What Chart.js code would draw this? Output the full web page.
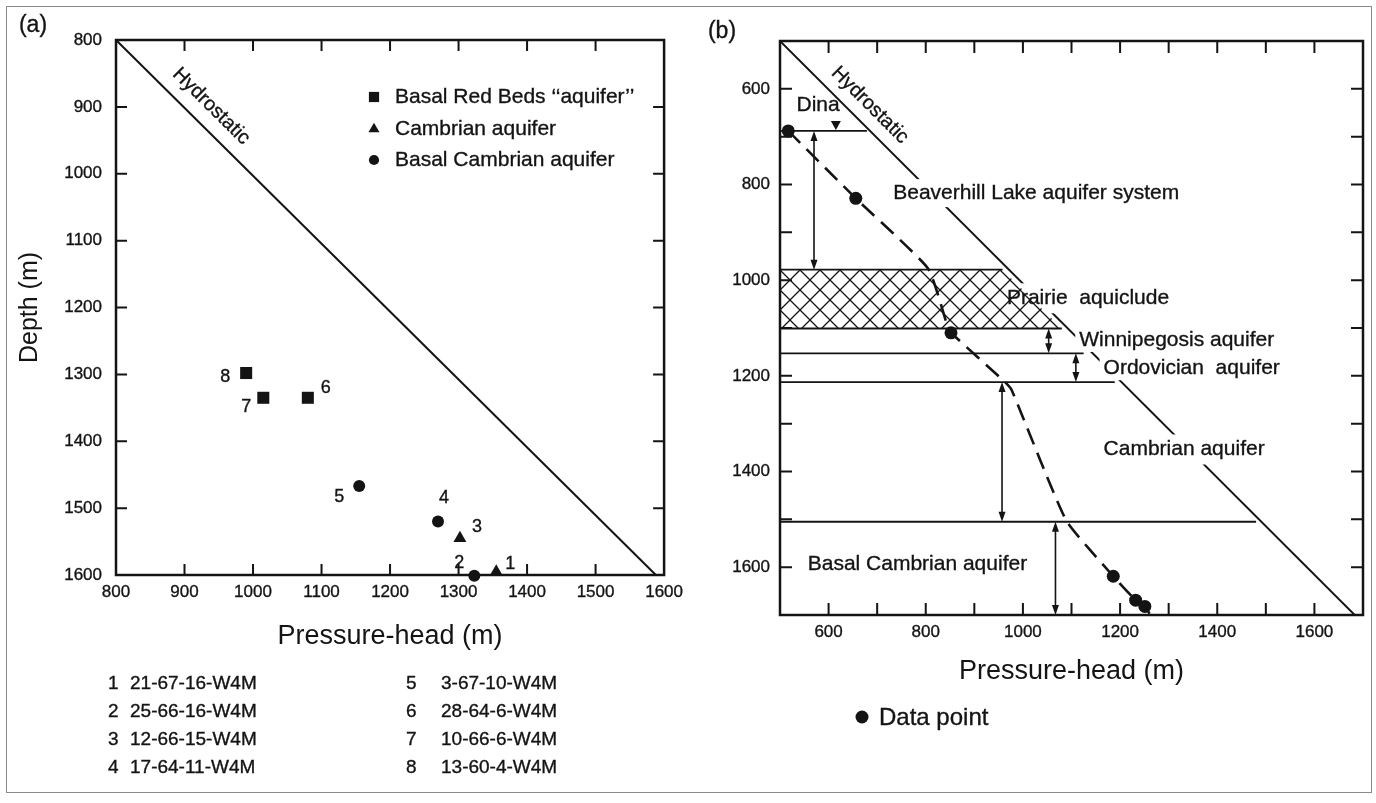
<!DOCTYPE html>
<html>
<head>
<meta charset="utf-8">
<title>Pressure-head versus depth</title>
<script src="https://cdn.jsdelivr.net/npm/chart.js@4.4.1/dist/chart.umd.min.js"></script>
<style>
  html, body { margin:0; padding:0; background:#fff; }
  #fig { position:relative; width:1376px; height:803px; overflow:hidden; background:#fff; }
  #frame { position:absolute; left:6px; top:6px; width:1366px; height:787px; border:1.5px solid #8a8a8a; box-sizing:border-box; }
  canvas { position:absolute; top:0; }
  #ca { left:0; }
  #cb { left:690px; }
</style>
</head>
<body>
<div id="fig">
  <div id="frame"></div>
  <canvas id="ca" width="690" height="803"></canvas>
  <canvas id="cb" width="686" height="803"></canvas>
</div>
<script>
const FONT = '"Liberation Sans", Arial, Helvetica, sans-serif';
const INK = '#141414';
Chart.defaults.font.family = FONT;
Chart.defaults.color = INK;

// ================= Panel (a) data =================
const wellNumbers = ['1','2','3','4','5','6','7','8'];
const wellNames = ['21-67-16-W4M','25-66-16-W4M','12-66-15-W4M','17-64-11-W4M',
                   '3-67-10-W4M','28-64-6-W4M','10-66-6-W4M','13-60-4-W4M'];
const wellPressureHead = [1355, 1323, 1302, 1270, 1155, 1080, 1015, 990];
const wellDepth        = [1595, 1601, 1545, 1520, 1467, 1335, 1335, 1298];
const wellAquifer = ['cambrian','basalCambrian','cambrian','basalCambrian','basalCambrian','redBeds','redBeds','redBeds'];
const aquiferKeys   = ['redBeds', 'cambrian', 'basalCambrian'];
const aquiferLabels = ['Basal Red Beds \u2018\u2018aquifer\u2019\u2019', 'Cambrian aquifer', 'Basal Cambrian aquifer'];
const aquiferMarkers = ['rect', 'triangle', 'circle'];
const hydroAHead  = [800, 1588];
const hydroADepth = [800, 1600];

// ================= Panel (b) data =================
const bPointHead  = [517, 656, 852, 1186, 1232, 1251];
const bPointDepth = [688, 829, 1110, 1619, 1669, 1682];
const profileHead  = [517, 656, 805, 846, 852, 963, 977, 1089, 1186, 1232, 1251, 1261];
const profileDepth = [688, 829, 976, 1100, 1110, 1213, 1230, 1502, 1619, 1669, 1682, 1698];
const hydroBHead  = [500, 1683];
const hydroBDepth = [500, 1700];
const boundaryDepth   = [688, 1153, 1213, 1505];
const boundaryHeadEnd = [679, 1125, 1189, 1480];
const prairieDepth   = [978, 1101];
const prairieHeadEnd = [958, 1080];
const intervalHead = [570, 1053, 1109, 957, 1067];
const intervalTop  = [688, 1101, 1153, 1213, 1505];
const intervalBase = [978, 1153, 1213, 1505, 1700];
const waterTableHead = 615;
const unitNames = ['Dina', 'Beaverhill Lake aquifer system', 'Prairie  aquiclude', 'Winnipegosis aquifer',
                   'Ordovician  aquifer', 'Cambrian aquifer', 'Basal Cambrian aquifer'];
const unitNameHead  = [534, 733, 967, 1116, 1166, 1166, 557];
const unitNameDepth = [635, 818, 1038, 1125, 1184, 1354, 1593];

// ================= layout / style settings =================
const numberLabelOffsets = [[14,-8],[-15,-13],[17,-11],[6,-23],[-20,11],[18,-10],[-17,9],[-21,4]];
const markerRadius = {rect: 8.5, triangle: 7.5, circle: 6};
const unitBoxHalf = [0, 14, 15, 12, 12, 15, 0];   // white knock-out box half-heights (px)
const STROKE = 0.35;                              // slight ink spread of the printed original

function drawMarker(ctx, style, x, y, r) {
  ctx.beginPath();
  if (style === 'rect') {
    const s = Math.SQRT1_2 * r;
    ctx.rect(x - s, y - s, 2 * s, 2 * s);
  } else if (style === 'triangle') {
    ctx.moveTo(x, y - r);
    ctx.lineTo(x + Math.sin(2 * Math.PI / 3) * r, y + r / 2);
    ctx.lineTo(x - Math.sin(2 * Math.PI / 3) * r, y + r / 2);
    ctx.closePath();
  } else {
    ctx.arc(x, y, r, 0, Math.PI * 2);
  }
  ctx.fillStyle = INK;
  ctx.fill();
}

function frameAndTicks(chart, step, len) {
  const {ctx, chartArea: a, scales: {x, y}} = chart;
  ctx.save();
  ctx.strokeStyle = INK;
  ctx.lineWidth = 2;
  ctx.beginPath();
  for (let v = x.min + step; v < x.max - 1e-6; v += step) {
    const p = x.getPixelForValue(v);
    ctx.moveTo(p, a.top); ctx.lineTo(p, a.top + len);
    ctx.moveTo(p, a.bottom); ctx.lineTo(p, a.bottom - len);
  }
  for (let v = y.min + step; v < y.max - 1e-6; v += step) {
    const p = y.getPixelForValue(v);
    ctx.moveTo(a.left, p); ctx.lineTo(a.left + len, p);
    ctx.moveTo(a.right, p); ctx.lineTo(a.right - len, p);
  }
  ctx.stroke();
  ctx.lineWidth = 2.5;
  ctx.strokeRect(a.left, a.top, a.right - a.left, a.bottom - a.top);
  ctx.restore();
}

function inkText(ctx, s, px, py) {
  ctx.fillText(s, px, py);
  ctx.lineWidth = STROKE;
  ctx.strokeStyle = INK;
  ctx.strokeText(s, px, py);
}

function rotatedLabel(chart, s, cx, cy, lineX, lineY, size) {
  const {ctx, scales: {x, y}} = chart;
  const ang = Math.atan2(y.getPixelForValue(lineY[1]) - y.getPixelForValue(lineY[0]),
                         x.getPixelForValue(lineX[1]) - x.getPixelForValue(lineX[0]));
  ctx.save();
  ctx.translate(x.getPixelForValue(cx), y.getPixelForValue(cy));
  ctx.rotate(ang);
  ctx.font = size + 'px ' + FONT;
  ctx.fillStyle = INK;
  ctx.textAlign = 'center';
  ctx.textBaseline = 'middle';
  inkText(ctx, s, 0, 0);
  ctx.restore();
}

function text(ctx, s, px, py, size, align) {
  ctx.font = size + 'px ' + FONT;
  ctx.fillStyle = INK;
  ctx.textAlign = align || 'left';
  ctx.textBaseline = 'middle';
  inkText(ctx, s, px, py);
}

const tickFont = {size: 17};
const tickStyle = {font: tickFont, color: INK, textStrokeColor: INK, textStrokeWidth: STROKE};

// ================= Chart (a) =================
const ptsFor = k => wellAquifer
  .map((aq, i) => aq === k ? {x: wellPressureHead[i], y: wellDepth[i]} : null)
  .filter(Boolean);

const panelAPlugin = {
  id: 'panelA',
  beforeDatasetsDraw(chart) { frameAndTicks(chart, 100, 11); },
  afterDraw(chart) {
    const {ctx, scales: {x, y}} = chart;
    ctx.save();
    text(ctx, '(a)', 33, 26, 23, 'center');
    rotatedLabel(chart, 'Hydrostatic', 939, 899, hydroAHead, hydroADepth, 20);
    wellNumbers.forEach((n, i) => {
      const px = x.getPixelForValue(wellPressureHead[i]) + numberLabelOffsets[i][0];
      const py = y.getPixelForValue(wellDepth[i]) + numberLabelOffsets[i][1];
      text(ctx, n, px, py, 18, 'center');
    });
    const legendRows = [97, 129, 160];
    aquiferLabels.forEach((lab, j) => {
      drawMarker(ctx, aquiferMarkers[j], 374, legendRows[j], markerRadius[aquiferMarkers[j]] * 0.85);
      text(ctx, lab, 395, legendRows[j], 21, 'left');
    });
    const listRows = [684, 712, 740, 768];
    wellNames.forEach((nm, i) => {
      const col = i < 4 ? 0 : 1, row = i % 4;
      text(ctx, wellNumbers[i], col ? 406 : 108, listRows[row], 19, 'left');
      text(ctx, nm, col ? 441 : 130, listRows[row], 19, 'left');
    });
    ctx.restore();
  }
};

new Chart(document.getElementById('ca'), {
  type: 'scatter',
  data: {
    datasets: [
      {
        label: 'Hydrostatic', type: 'line', showLine: true, fill: false,
        data: hydroAHead.map((v, i) => ({x: v, y: hydroADepth[i]})),
        borderColor: INK, borderWidth: 2, pointRadius: 0, clip: false
      },
      ...aquiferKeys.map((k, j) => ({
        label: aquiferLabels[j], data: ptsFor(k),
        pointStyle: aquiferMarkers[j], pointRadius: markerRadius[aquiferMarkers[j]],
        pointHoverRadius: markerRadius[aquiferMarkers[j]],
        backgroundColor: INK, borderColor: INK, borderWidth: 0, clip: false
      }))
    ]
  },
  options: {
    responsive: false, animation: false,
    layout: {padding: {left: 15, top: 40, right: 21, bottom: 150}},
    plugins: {legend: {display: false}, tooltip: {enabled: false}},
    scales: {
      x: {
        type: 'linear', min: 800, max: 1600,
        ticks: Object.assign({stepSize: 100, autoSkip: false, maxRotation: 0, padding: 7,
                callback: v => String(v)}, tickStyle),
        grid: {display: false, drawTicks: false}, border: {display: false},
        title: {display: true, text: 'Pressure-head (m)', font: {size: 27}, color: INK, padding: 0},
        afterFit: s => { s.height = 78; }
      },
      y: {
        type: 'linear', reverse: true, min: 800, max: 1600,
        ticks: Object.assign({stepSize: 100, autoSkip: false, padding: 14,
                callback: v => String(v)}, tickStyle),
        grid: {display: false, drawTicks: false}, border: {display: false},
        title: {display: true, text: 'Depth (m)', font: {size: 25}, color: INK, padding: 0},
        afterFit: s => { s.width = 101; }
      }
    }
  },
  plugins: [panelAPlugin]
});

// ================= Chart (b) =================
function hatchPattern(ctx) {
  const c = document.createElement('canvas');
  c.width = 20; c.height = 20;
  const g = c.getContext('2d');
  g.strokeStyle = INK; g.lineWidth = 1.3;
  g.beginPath();
  g.moveTo(-5, -5); g.lineTo(25, 25);
  g.moveTo(25, -5); g.lineTo(-5, 25);
  g.stroke();
  return ctx.createPattern(c, 'repeat');
}

function vArrow(ctx, px, y1, y2) {
  const L = 10, W = 3.5;
  ctx.lineWidth = 1.6;
  ctx.beginPath(); ctx.moveTo(px, y1 + L - 2); ctx.lineTo(px, y2 - L + 2); ctx.stroke();
  ctx.beginPath(); ctx.moveTo(px, y1); ctx.lineTo(px - W, y1 + L); ctx.lineTo(px + W, y1 + L); ctx.closePath(); ctx.fill();
  ctx.beginPath(); ctx.moveTo(px, y2); ctx.lineTo(px - W, y2 - L); ctx.lineTo(px + W, y2 - L); ctx.closePath(); ctx.fill();
}

const panelBPlugin = {
  id: 'panelB',
  beforeDatasetsDraw(chart) {
    const {ctx, scales: {x, y}} = chart;
    ctx.save();
    ctx.strokeStyle = INK; ctx.fillStyle = INK;
    ctx.lineWidth = 1.8;
    ctx.beginPath();
    boundaryDepth.forEach((d, i) => {
      const py = y.getPixelForValue(d);
      ctx.moveTo(x.getPixelForValue(x.min), py);
      ctx.lineTo(x.getPixelForValue(boundaryHeadEnd[i]), py);
    });
    ctx.stroke();
    intervalHead.forEach((h, i) => {
      vArrow(ctx, x.getPixelForValue(h), y.getPixelForValue(intervalTop[i]), y.getPixelForValue(intervalBase[i]));
    });
    const tx = x.getPixelForValue(waterTableHead), ty = y.getPixelForValue(boundaryDepth[0]);
    ctx.beginPath(); ctx.moveTo(tx, ty - 1); ctx.lineTo(tx - 5, ty - 10); ctx.lineTo(tx + 5, ty - 10); ctx.closePath(); ctx.fill();
    ctx.restore();
    frameAndTicks(chart, 100, 12);
  },
  afterDatasetsDraw(chart) {
    const {ctx, scales: {x, y}} = chart;
    ctx.save();
    ctx.font = '21px ' + FONT;
    unitNames.forEach((nm, i) => {
      const h = unitBoxHalf[i];
      if (!h) return;
      const px = x.getPixelForValue(unitNameHead[i]), py = y.getPixelForValue(unitNameDepth[i]);
      const w = ctx.measureText(nm).width;
      ctx.fillStyle = '#fff';
      ctx.fillRect(px - 4, py - h, w + 8, 2 * h);
    });
    const x0 = x.getPixelForValue(x.min);
    const yT = y.getPixelForValue(prairieDepth[0]), yB = y.getPixelForValue(prairieDepth[1]);
    const xT = x.getPixelForValue(prairieHeadEnd[0]), xB = x.getPixelForValue(prairieHeadEnd[1]);
    ctx.beginPath();
    ctx.moveTo(x0, yT); ctx.lineTo(xT, yT); ctx.lineTo(xB, yB); ctx.lineTo(x0, yB); ctx.closePath();
    ctx.fillStyle = hatchPattern(ctx);
    ctx.fill();
    ctx.strokeStyle = INK; ctx.lineWidth = 1.8;
    ctx.beginPath();
    ctx.moveTo(x0, yT); ctx.lineTo(xT, yT);
    ctx.moveTo(x0, yB); ctx.lineTo(xB, yB);
    ctx.stroke();
    unitNames.forEach((nm, i) => {
      text(ctx, nm, x.getPixelForValue(unitNameHead[i]), y.getPixelForValue(unitNameDepth[i]), 21, 'left');
    });
    rotatedLabel(chart, 'Hydrostatic', 685, 634, hydroBHead, hydroBDepth, 20);
    text(ctx, '(b)', 32, 32, 23, 'center');
    drawMarker(ctx, 'circle', 172, 717, 6.5);
    text(ctx, 'Data point', 189, 718, 24, 'left');
    ctx.restore();
  }
};

new Chart(document.getElementById('cb'), {
  type: 'scatter',
  data: {
    datasets: [
      {
        label: 'Hydrostatic', type: 'line', showLine: true, fill: false,
        data: hydroBHead.map((v, i) => ({x: v, y: hydroBDepth[i]})),
        borderColor: INK, borderWidth: 1.8, pointRadius: 0, clip: false
      },
      {
        label: 'Pressure-head profile', type: 'line', showLine: true, fill: false,
        data: profileHead.map((v, i) => ({x: v, y: profileDepth[i]})),
        borderColor: INK, borderWidth: 2.6, borderDash: [17, 9], pointRadius: 0, tension: 0.15, clip: false
      },
      {
        label: 'Data point',
        data: bPointHead.map((v, i) => ({x: v, y: bPointDepth[i]})),
        pointStyle: 'circle', pointRadius: 6.5, backgroundColor: INK, borderColor: INK, borderWidth: 0, clip: false
      }
    ]
  },
  options: {
    responsive: false, animation: false,
    layout: {padding: {left: 0, top: 41, right: 13, bottom: 115}},
    plugins: {legend: {display: false}, tooltip: {enabled: false}},
    scales: {
      x: {
        type: 'linear', min: 500, max: 1700,
        ticks: Object.assign({stepSize: 100, autoSkip: false, maxRotation: 0, padding: 7,
                callback: v => (v % 200 === 0 ? String(v) : '')}, tickStyle),
        grid: {display: false, drawTicks: false}, border: {display: false},
        title: {display: true, text: 'Pressure-head (m)', font: {size: 27}, color: INK, padding: 0},
        afterFit: s => { s.height = 73; }
      },
      y: {
        type: 'linear', reverse: true, min: 500, max: 1700,
        ticks: Object.assign({stepSize: 100, autoSkip: false, padding: 10,
                callback: v => (v % 200 === 0 ? String(v) : '')}, tickStyle),
        grid: {display: false, drawTicks: false}, border: {display: false},
        afterFit: s => { s.width = 90; }
      }
    }
  },
  plugins: [panelBPlugin]
});
</script>
</body>
</html>
